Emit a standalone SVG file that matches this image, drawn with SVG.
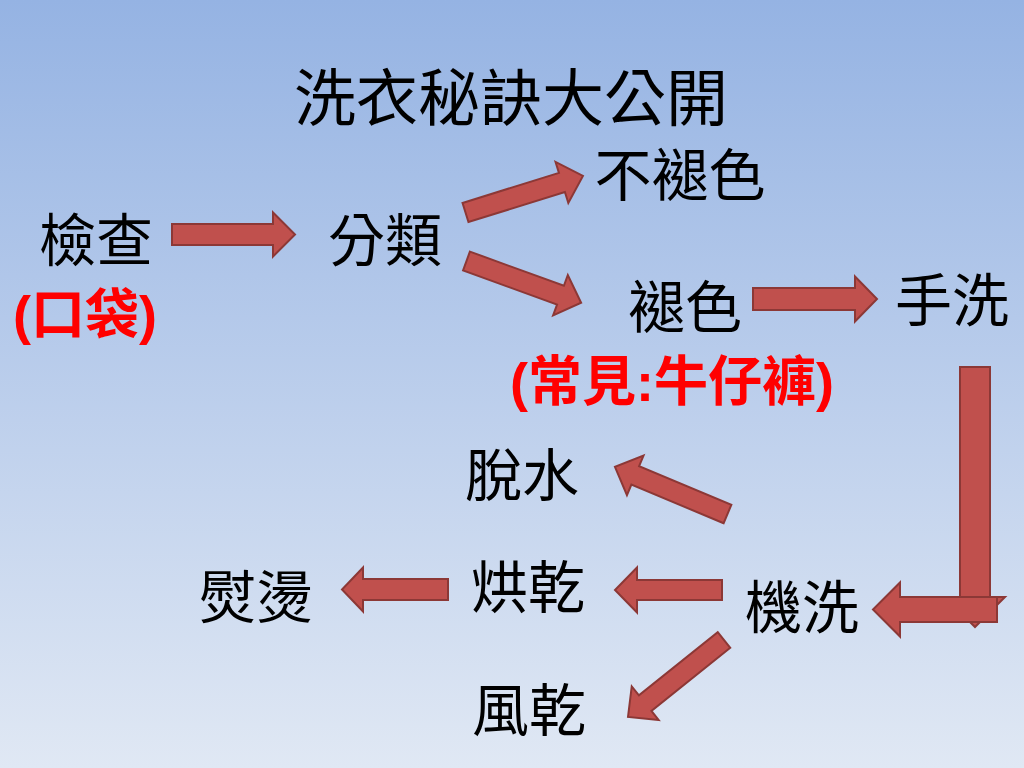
<svg xmlns="http://www.w3.org/2000/svg" width="1024" height="768" viewBox="0 0 1024 768">
<defs>
<linearGradient id="bg" x1="0" y1="0" x2="0" y2="1">
<stop offset="0" stop-color="#95b3e3"/>
<stop offset="1" stop-color="#e0e8f4"/>
</linearGradient>
</defs>
<style>
.t{font-family:"Noto Sans CJK TC","Noto Sans CJK SC",sans-serif;font-size:57px;fill:#000;text-anchor:middle}
.title{font-size:62px}
.r{fill:#ff0000;font-weight:bold;font-size:54px}
.p{font-family:"Liberation Sans",sans-serif;font-weight:bold}
.a{fill:#c0504d;stroke:#8c3836;stroke-width:2;stroke-linejoin:miter}
</style>
<rect width="1024" height="768" fill="url(#bg)"/>
<g id="title"><text class="t title" x="511" y="121">洗衣秘訣大公開</text></g>
<g id="n-check"><text class="t" x="96" y="261">檢查</text><text class="t r" x="85" y="334"><tspan class="p">(</tspan>口袋<tspan class="p">)</tspan></text></g>
<g id="n-sort"><text class="t" x="385" y="261">分類</text></g>
<g id="n-nofade"><text class="t" x="680" y="196">不褪色</text></g>
<g id="n-fade"><text class="t" x="685" y="328">褪色</text><text class="t r" x="672" y="401"><tspan class="p">(</tspan>常見<tspan class="p">:</tspan>牛仔褲<tspan class="p">)</tspan></text></g>
<g id="n-hand"><text class="t" x="952" y="321">手洗</text></g>
<g id="n-spin"><text class="t" x="522" y="496">脫水</text></g>
<g id="n-dry"><text class="t" x="528" y="608">烘乾</text></g>
<g id="n-iron"><text class="t" x="256" y="618">熨燙</text></g>
<g id="n-machine"><text class="t" x="802" y="628">機洗</text></g>
<g id="n-air"><text class="t" x="529" y="731">風乾</text></g>
<g id="connectors">
<path class="a" transform="translate(172,234.5)" d="M0,-10.5 L101,-10.5 L101,-22 L123,0 L101,22 L101,10.5 L0,10.5 Z"/>
<path class="a" transform="translate(465.5,212.5) rotate(-17.3)" d="M0,-10 L101,-10 L101,-21.5 L123,0 L101,21.5 L101,10 L0,10 Z"/>
<path class="a" transform="translate(466.5,261) rotate(20)" d="M0,-10 L100,-10 L100,-21.5 L122,0 L100,21.5 L100,10 L0,10 Z"/>
<path class="a" transform="translate(753,299)" d="M0,-11 L102,-11 L102,-22.5 L124,0 L102,22.5 L102,11 L0,11 Z"/>
<path class="a" transform="translate(975,367) rotate(90)" d="M0,-15 L230,-15 L230,-30 L260,0 L230,30 L230,15 L0,15 Z"/>
<path class="a" transform="translate(997,609.5) rotate(180)" d="M0,-12.5 L97,-12.5 L97,-27 L124,0 L97,27 L97,12.5 L0,12.5 Z"/>
<path class="a" transform="translate(727.5,514) rotate(-157.3)" d="M0,-10 L100,-10 L100,-21.5 L122,0 L100,21.5 L100,10 L0,10 Z"/>
<path class="a" transform="translate(722,590) rotate(180)" d="M0,-10 L85,-10 L85,-22.5 L107,0 L85,22.5 L85,10 L0,10 Z"/>
<path class="a" transform="translate(724,640) rotate(141.3)" d="M0,-10 L101,-10 L101,-21.5 L123,0 L101,21.5 L101,10 L0,10 Z"/>
<path class="a" transform="translate(448,589.5) rotate(180)" d="M0,-10.5 L85,-10.5 L85,-22 L106,0 L85,22 L85,10.5 L0,10.5 Z"/>
</g>
</svg>
